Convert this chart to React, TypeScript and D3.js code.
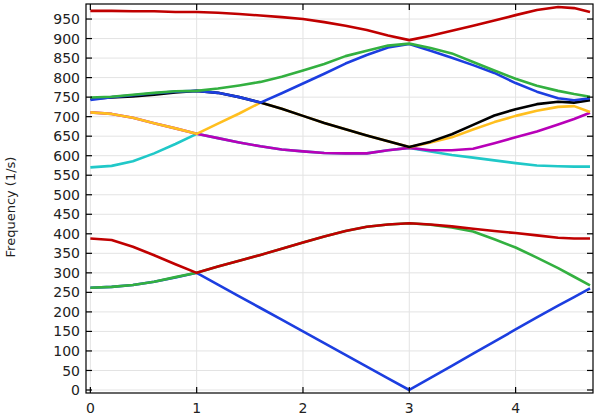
import React from "react";
import * as d3 from "d3";

// Wave-vector path positions (shared by every band)
const kPath = [0, 0.2, 0.4, 0.6, 0.8, 1, 1.2, 1.4, 1.6, 1.8, 2, 2.2, 2.4, 2.6, 2.8, 3, 3.2, 3.4, 3.6, 3.8, 4, 4.2, 4.4, 4.55, 4.7];

// Eigenfrequency bands (1/s), drawn in this order
const band1 = [262, 264, 269, 277, 288, 300, 270, 240, 210, 180, 150, 120, 90, 60, 30, 0, 31, 62, 93, 124, 155, 186, 216, 238, 260];
const band2 = [262, 264, 269, 277, 289, 300, 316, 331, 346, 362, 378, 393, 407, 418, 424, 427, 423, 416, 406, 386, 365, 339, 312, 290, 268];
const band3 = [388, 384, 367, 345, 322, 300, 316, 331, 346, 362, 378, 393, 407, 418, 424, 427, 424, 419, 413, 407, 402, 396, 390, 388, 388];
const band4 = [570, 574, 586, 606, 630, 656, 645, 634, 624, 616, 611, 607, 606, 606, 614, 620, 611, 602, 595, 588, 581, 575, 573, 572, 572];
const band5 = [711, 707, 697, 683, 670, 656, 645, 634, 624, 616, 611, 607, 606, 606, 614, 620, 614, 614, 618, 632, 647, 662, 680, 694, 710];
const band6 = [711, 707, 697, 683, 670, 656, 682, 708, 736, 720, 702, 684, 668, 652, 637, 622, 634, 647, 667, 686, 702, 715, 725, 727, 712];
const band7 = [746, 749, 752, 756, 762, 766, 761, 750, 736, 720, 702, 684, 668, 652, 637, 622, 636, 655, 679, 703, 719, 732, 738, 736, 742];
const band8 = [743, 750, 755, 760, 764, 766, 761, 750, 736, 760, 785, 810, 836, 858, 877, 886, 869, 851, 832, 812, 786, 764, 747, 742, 747];
const band9 = [749, 751, 756, 761, 765, 766, 772, 780, 789, 802, 818, 835, 855, 869, 882, 887, 876, 862, 840, 818, 797, 779, 766, 758, 751];
const band10 = [971, 971, 970, 970, 968, 968, 966, 963, 959, 955, 950, 942, 933, 922, 908, 896, 907, 920, 933, 946, 960, 973, 981, 978, 968];

const bands = [band1, band2, band3, band4, band5, band6, band7, band8, band9, band10];
const bandColors = ["#1c3ee0", "#33b040", "#c00000", "#20c8c8", "#b800b8", "#ffbf1f", "#000000", "#1c3ee0", "#33b040", "#c00000"];

const yTicks = d3.range(0, 951, 50);
const xTicks = [0, 1, 2, 3, 4];

const W = 597;
const H = 416;
const left = 86, right = 593, top = 4, bottom = 393;

export default function App() {
  const x = d3.scaleLinear().domain([-0.041, 4.728]).range([left, right]);
  const y = d3.scaleLinear().domain([-7.7, 988.5]).range([bottom, top]);
  const line = d3
    .line<number>()
    .x((_, i) => x(kPath[i]))
    .y((d) => y(d))
    .curve(d3.curveLinear);

  const font = "'DejaVu Sans', sans-serif";

  return (
    <svg
      width={W}
      height={H}
      style={{ position: "absolute", left: 0, top: 0, background: "#fff" }}
    >
      <rect x={0} y={0} width={W} height={H} fill="#fff" />
      {/* grid */}
      {yTicks.map((t) => (
        <line key={"gy" + t} x1={left} x2={right} y1={y(t)} y2={y(t)} stroke="#e3e3e3" strokeWidth={1} />
      ))}
      {xTicks.map((t) => (
        <line key={"gx" + t} x1={x(t)} x2={x(t)} y1={top} y2={bottom} stroke="#e3e3e3" strokeWidth={1} />
      ))}
      {/* bands */}
      <g clipPath="url(#clip)">
        {bands.map((b, i) => (
          <path
            key={"b" + i}
            d={line(b) || ""}
            fill="none"
            stroke={bandColors[i]}
            strokeWidth={2.6}
            strokeLinejoin="round"
            strokeLinecap="butt"
          />
        ))}
      </g>
      <defs>
        <clipPath id="clip">
          <rect x={left} y={top} width={right - left} height={bottom - top} />
        </clipPath>
      </defs>
      {/* frame */}
      <rect x={left} y={top} width={right - left} height={bottom - top} fill="none" stroke="#000" strokeWidth={1.2} />
      {/* y ticks */}
      {yTicks.map((t) => (
        <g key={"ty" + t}>
          <line x1={left} x2={left + 6} y1={y(t)} y2={y(t)} stroke="#000" strokeWidth={1.2} />
          <line x1={right - 6} x2={right} y1={y(t)} y2={y(t)} stroke="#000" strokeWidth={1.2} />
          <text x={left - 6} y={y(t)} dy="0.36em" textAnchor="end" fontFamily={font} fontSize={14} fill="#222">
            {t}
          </text>
        </g>
      ))}
      {/* x ticks */}
      {xTicks.map((t) => (
        <g key={"tx" + t}>
          <line x1={x(t)} x2={x(t)} y1={bottom} y2={bottom - 6} stroke="#000" strokeWidth={1.2} />
          <line x1={x(t)} x2={x(t)} y1={top} y2={top + 6} stroke="#000" strokeWidth={1.2} />
          <text x={x(t)} y={413} textAnchor="middle" fontFamily={font} fontSize={14} fill="#222">
            {t}
          </text>
        </g>
      ))}
      {/* y axis label */}
      <text
        transform={`translate(15, 207) rotate(-90)`}
        textAnchor="middle"
        fontFamily={font}
        fontSize={13}
        fill="#222"
      >
        Frequency (1/s)
      </text>
    </svg>
  );
}
